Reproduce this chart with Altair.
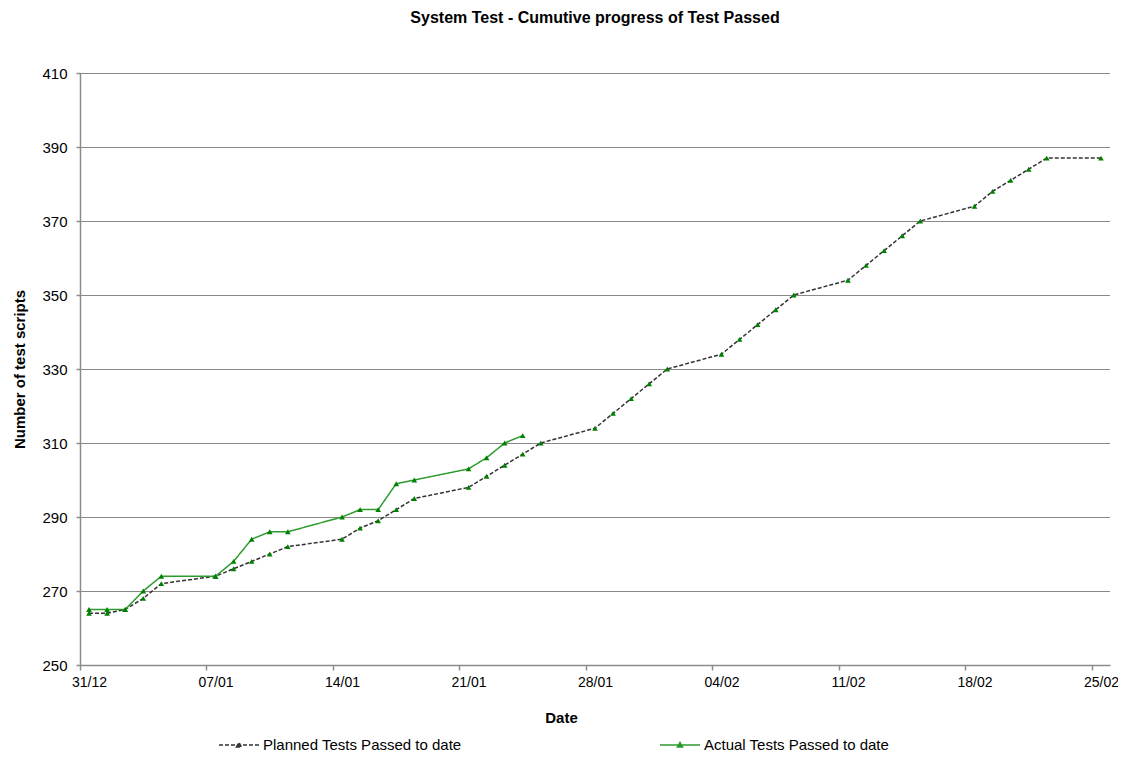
import altair as alt
import pandas as pd

title_text = "System Test -  Cumutive progress of Test Passed"
series_names = ["Planned Tests Passed to date", "Actual Tests Passed to date"]

planned_dates = [
    "2008-12-31", "2009-01-01", "2009-01-02", "2009-01-03", "2009-01-04",
    "2009-01-07", "2009-01-08", "2009-01-09", "2009-01-10", "2009-01-11",
    "2009-01-14", "2009-01-15", "2009-01-16", "2009-01-17", "2009-01-18",
    "2009-01-21", "2009-01-22", "2009-01-23", "2009-01-24", "2009-01-25",
    "2009-01-28", "2009-01-29", "2009-01-30", "2009-01-31", "2009-02-01",
    "2009-02-04", "2009-02-05", "2009-02-06", "2009-02-07", "2009-02-08",
    "2009-02-11", "2009-02-12", "2009-02-13", "2009-02-14", "2009-02-15",
    "2009-02-18", "2009-02-19", "2009-02-20", "2009-02-21", "2009-02-22",
    "2009-02-25",
]
planned_values = [
    264, 264, 265, 268, 272,
    274, 276, 278, 280, 282,
    284, 287, 289, 292, 295,
    298, 301, 304, 307, 310,
    314, 318, 322, 326, 330,
    334, 338, 342, 346, 350,
    354, 358, 362, 366, 370,
    374, 378, 381, 384, 387,
    387,
]

actual_dates = [
    "2008-12-31", "2009-01-01", "2009-01-02", "2009-01-03", "2009-01-04",
    "2009-01-07", "2009-01-08", "2009-01-09", "2009-01-10", "2009-01-11",
    "2009-01-14", "2009-01-15", "2009-01-16", "2009-01-17", "2009-01-18",
    "2009-01-21", "2009-01-22", "2009-01-23", "2009-01-24",
]
actual_values = [
    265, 265, 265, 270, 274,
    274, 278, 284, 286, 286,
    290, 292, 292, 299, 300,
    303, 306, 310, 312,
]

week_ticks = ["2008-12-31", "2009-01-07", "2009-01-14", "2009-01-21", "2009-01-28",
              "2009-02-04", "2009-02-11", "2009-02-18", "2009-02-25"]
x_domain = ["2008-12-31", "2009-02-26"]
y_ticks = [250, 270, 290, 310, 330, 350, 370, 390, 410]

rows = []
for d, v in zip(planned_dates, planned_values):
    rows.append({"date": d + "T12:00:00", "value": v, "series": series_names[0]})
for d, v in zip(actual_dates, actual_values):
    rows.append({"date": d + "T12:00:00", "value": v, "series": series_names[1]})
df = pd.DataFrame(rows)


def dt(s):
    y, m, d = (int(p) for p in s.split("-"))
    return alt.DateTime(year=y, month=m, date=d)


FONT = "Liberation Sans"

x_enc = alt.X(
    "date:T",
    scale=alt.Scale(domain=[dt(s) for s in x_domain]),
    axis=alt.Axis(
        values=[dt(s) for s in week_ticks], format="%d/%m", labelOffset=9,
        labelFlush=False, labelOverlap=False, labelFontSize=14,
        grid=False, tickSize=5, labelPadding=5, title="Date",
        titleX=481, titleY=52, titleBaseline="middle",
    ),
)
y_enc = alt.Y(
    "value:Q",
    scale=alt.Scale(domain=[250, 410]),
    axis=alt.Axis(
        values=y_ticks, grid=True, gridColor="#111111", gridDash=[1, 1],
        gridWidth=1, tickSize=4, labelPadding=9, title="Number of test scripts",
        titleX=-61, titleY=296, titleBaseline="middle", titleAlign="center",
    ),
)

legend = alt.Legend(
    title=None, orient="none", legendX=138, legendY=651, direction="horizontal",
    columns=2, columnPadding=195, symbolType="M-1,0H1M-0.13,0.1L0,-0.13L0.13,0.1Z",
    symbolSize=1600, symbolStrokeWidth=1.5, symbolFillColor="#008000",
    labelFont=FONT, labelFontSize=15, labelOffset=3, labelColor="#000000", labelLimit=400,
)

base = alt.Chart(df)

lines = base.mark_line(strokeWidth=1.5).encode(
    x=x_enc, y=y_enc,
    color=alt.Color("series:N", scale=alt.Scale(domain=series_names, range=["#333333", "#2e9b2e"]), legend=legend),
    strokeDash=alt.StrokeDash("series:N", scale=alt.Scale(domain=series_names, range=[[4, 2], [1, 0]]), legend=legend),
)

points = base.mark_point(shape="triangle-up", filled=True, size=32, color="#008000", opacity=1).encode(
    x=x_enc, y=y_enc, detail="series:N",
)

chart = (
    alt.layer(lines, points)
    .properties(
        width=1030, height=592,
        title=alt.Title(title_text, font=FONT, fontSize=16, fontWeight="bold", color="#000000",
                        anchor="middle", offset=40),
        autosize=alt.AutoSizeParams(type="none"),
        padding={"left": 72, "top": 65, "right": 8, "bottom": 89},
    )
    .configure_view(stroke=None)
    .configure_axis(
        domainColor="#8c8c8c", domainWidth=1.5, tickColor="#8c8c8c", tickWidth=1.5,
        labelFont=FONT, labelFontSize=15, labelColor="#000000",
        titleFont=FONT, titleFontSize=15, titleFontWeight="bold", titleColor="#000000",
    )
)

chart.save("out.html", embed_options={"renderer": "svg", "actions": False})
